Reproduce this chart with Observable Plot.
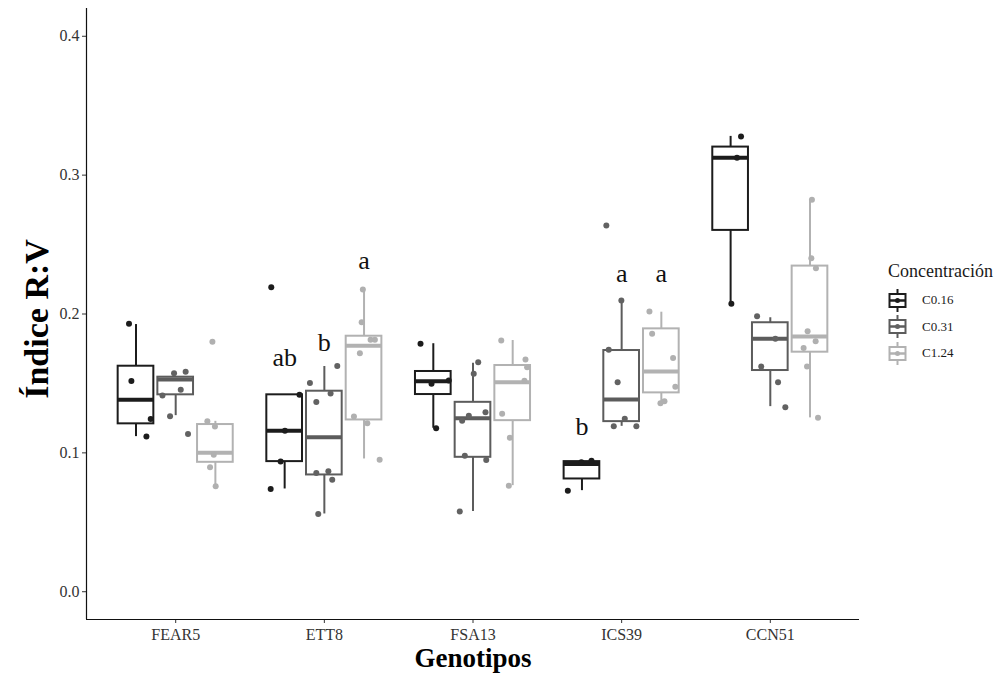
<!DOCTYPE html>
<html><head><meta charset="utf-8">
<script src="https://cdn.jsdelivr.net/npm/d3@7"></script>
<script src="https://cdn.jsdelivr.net/npm/@observablehq/plot@0.6"></script>
<style>
body{margin:0;background:#fff;}
#wrap{position:relative;width:998px;height:677px;font-family:"Liberation Serif",serif;background:#fff;}
#legend{position:absolute;left:888px;top:261px;color:#1a1a1a;font-family:"Liberation Serif",serif;}
#legend .title{font-size:18px;line-height:20px;margin-bottom:6px;}
#legend .item{display:flex;align-items:center;height:26.5px;font-size:13px;}
#legend .item svg{margin-right:15px;}
</style></head><body>
<div id="wrap"><div id="chart"></div><div id="legend"></div></div>
<script>
const genotypes = ["FEAR5", "ETT8", "FSA13", "ICS39", "CCN51"];
const concentrations = ["C0.16", "C0.31", "C1.24"];
const colors = ["#1c1c1c", "#5c5c5c", "#b2b2b2"];
const dotColors = ["#1c1c1c", "#626262", "#b0b0b0"];
const yTicks = [0, 0.1, 0.2, 0.3, 0.4];

// box statistics, genotype-major order (FEAR5 C0.16, FEAR5 C0.31, FEAR5 C1.24, ETT8 C0.16 ...)
const boxQ1     = [0.1209, 0.1418, 0.0932, 0.0937, 0.0841, 0.1237, 0.1420, 0.0968, 0.1232, 0.0812, 0.1225, 0.1432, 0.2602, 0.1593, 0.1725];
const boxMedian = [0.1382, 0.1528, 0.1000, 0.1160, 0.1112, 0.1771, 0.1516, 0.1249, 0.1508, 0.0920, 0.1384, 0.1586, 0.3126, 0.1821, 0.1838];
const boxQ3     = [0.1624, 0.1545, 0.1204, 0.1418, 0.1444, 0.1840, 0.1586, 0.1364, 0.1629, 0.0937, 0.1737, 0.1893, 0.3202, 0.1937, 0.2345];
const boxLow    = [0.1117, 0.1268, 0.0757, 0.0740, 0.0560, 0.0956, 0.1177, 0.0577, 0.0764, 0.0728, 0.1191, 0.1357, 0.2074, 0.1333, 0.1252];
const boxHigh   = [0.1924, 0.1545, 0.1227, 0.1418, 0.1622, 0.2186, 0.1786, 0.1645, 0.1809, 0.0944, 0.2097, 0.2013, 0.3279, 0.1973, 0.2823];

// jittered observations: group index (into box arrays), value, horizontal jitter
const pointGroup = [
  0,0,0,0, 1,1,1,1,1,1, 2,2,2,2,2,2,
  3,3,3,3,3, 4,4,4,4,4,4,4,4, 5,5,5,5,5,5,5,5,
  6,6,6,6, 7,7,7,7,7,7,7,7, 8,8,8,8,8,8,8,
  9,9,9, 10,10,10,10,10,10,10, 11,11,11,11,11,11,
  12,12,12, 13,13,13,13,13, 14,14,14,14,14,14,14,14];
const pointValue = [
  0.1929,0.1517,0.1244,0.1117, 0.1574,0.1584,0.1454,0.1413,0.1263,0.1135, 0.1800,0.1227,0.1189,0.0987,0.0896,0.0759,
  0.2193,0.1418,0.1160,0.0937,0.0740, 0.1625,0.1504,0.1367,0.1427,0.0855,0.0867,0.0807,0.0560, 0.2177,0.1941,0.1814,0.1814,0.1718,0.1261,0.1213,0.0951,
  0.1785,0.1497,0.1521,0.1177, 0.1653,0.1569,0.1268,0.1232,0.1292,0.0980,0.0949,0.0577, 0.1809,0.1672,0.1617,0.1520,0.1281,0.1108,0.0764,
  0.0944,0.0932,0.0728, 0.2638,0.2097,0.1742,0.1508,0.1245,0.1191,0.1191, 0.2018,0.1857,0.1684,0.1477,0.1357,0.1371,
  0.3279,0.3126,0.2074, 0.1984,0.1821,0.1622,0.1508,0.1328, 0.2823,0.2402,0.2330,0.1876,0.1804,0.1756,0.1622,0.1252];
const pointJitter = [
  -0.047,-0.031,0.099,0.070, -0.011,0.067,0.034,-0.089,-0.038,0.083, -0.020,-0.054,-0.003,-0.011,-0.036,0.002,
  -0.090,0.100,0.002,-0.027,-0.094, 0.087,-0.097,-0.054,0.042,-0.054,0.027,0.053,-0.041, -0.008,-0.016,0.044,0.073,-0.028,-0.068,0.022,0.105,
  -0.086,-0.012,0.104,0.019, 0.035,0.005,-0.028,-0.073,0.084,-0.055,0.089,-0.089, -0.077,0.086,0.097,0.079,-0.071,-0.019,-0.026,
  0.064,-0.004,-0.095, -0.103,-0.002,-0.087,-0.027,0.021,-0.053,0.099, -0.080,-0.062,0.079,0.094,-0.006,0.021,
  0.070,0.043,0.005, -0.089,0.034,-0.061,0.052,0.101, 0.013,0.009,0.040,-0.016,0.038,-0.043,-0.020,0.054];

// significance letters (y = baseline value)
const letterGroup = [3, 4, 5, 9, 10, 11];
const letterText  = ["ab", "b", "a", "b", "a", "a"];
const letterY     = [0.1629, 0.1730, 0.2326, 0.1132, 0.2229, 0.2229];

const dodge = 0.267, halfBox = 0.12;
const xDomain = [0.4, genotypes.length + 0.6];
const yDomain = [-0.02, 0.42];
const center = i => Math.floor(i / 3) + 1 + (i % 3 - 1) * dodge;

const boxes = boxQ1.map((q1, i) => ({
  i, c: i % 3, x: center(i), x1: center(i) - halfBox, x2: center(i) + halfBox,
  q1, med: boxMedian[i], q3: boxQ3[i], lo: boxLow[i], hi: boxHigh[i]
}));
const points = pointValue.map((v, k) => ({
  c: pointGroup[k] % 3, x: center(pointGroup[k]) + pointJitter[k], y: v
}));
const letters = letterText.map((t, k) => ({ t, x: center(letterGroup[k]), y: letterY[k] }));

const font = '"Liberation Serif", serif';
const chart = Plot.plot({
  width: 998, height: 677,
  marginLeft: 86, marginRight: 139, marginTop: 8, marginBottom: 58,
  style: { fontFamily: font, background: "#fff", color: "#1a1a1a" },
  x: { domain: xDomain, axis: null },
  y: { domain: yDomain, axis: null },
  marks: [
    Plot.ruleX(boxes, { x: "x", y1: "lo", y2: "hi", stroke: d => colors[d.c], strokeWidth: 2 }),
    Plot.rect(boxes, { x1: "x1", x2: "x2", y1: "q1", y2: "q3", fill: "white", stroke: d => colors[d.c], strokeWidth: 2 }),
    Plot.ruleY(boxes, { x1: "x1", x2: "x2", y: "med", stroke: d => colors[d.c], strokeWidth: 4 }),
    Plot.dot(points, { x: "x", y: "y", r: 3, fill: d => dotColors[d.c], stroke: "none" }),
    Plot.text(letters, { x: "x", y: "y", text: "t", fontSize: 26, lineAnchor: "bottom", fill: "#111", fontFamily: font }),
    Plot.axisY(yTicks, { tickFormat: d3.format(".1f"), tickSize: 4, fontSize: 16, fill: "#333", stroke: "#333", tickPadding: 3, label: null, fontFamily: font }),
    Plot.axisX(genotypes.map((g, i) => i + 1), { tickFormat: d => genotypes[d - 1], tickSize: 4, fontSize: 16, fill: "#333", stroke: "#333", tickPadding: 5, label: null, fontFamily: font }),
    Plot.ruleX([xDomain[0]], { stroke: "#111", strokeWidth: 1.2 }),
    Plot.ruleY([yDomain[0]], { stroke: "#111", strokeWidth: 1.2 }),
    Plot.text(["Índice R:V"], { frameAnchor: "left", textAnchor: "middle", rotate: -90, dx: -49, dy: 5, fontSize: 34, fontWeight: "bold", fill: "#000", fontFamily: font }),
    Plot.text(["Genotipos"], { frameAnchor: "bottom", dy: 47, fontSize: 27, fontWeight: "bold", fill: "#000", fontFamily: font })
  ]
});
document.getElementById("chart").appendChild(chart);

// legend
const legend = document.getElementById("legend");
legend.innerHTML = '<div class="title">Concentración</div>' + concentrations.map((c, i) =>
  `<div class="item"><svg width="19" height="23" viewBox="0 0 19 23">
     <line x1="9.5" y1="0" x2="9.5" y2="23" stroke="${colors[i]}" stroke-width="2"/>
     <rect x="1.5" y="5" width="16" height="13" fill="white" stroke="${colors[i]}" stroke-width="2"/>
     <line x1="1.5" y1="11.5" x2="17.5" y2="11.5" stroke="${colors[i]}" stroke-width="2.5"/>
     <circle cx="9.5" cy="11.5" r="2.5" fill="${dotColors[i]}"/>
   </svg><span>${c}</span></div>`).join("");
</script>
</body></html>
